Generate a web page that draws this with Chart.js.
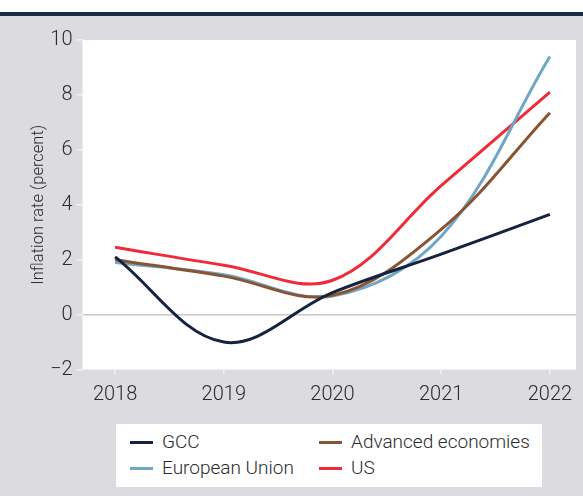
<!DOCTYPE html>
<html>
<head>
<meta charset="utf-8">
<script src="https://cdn.jsdelivr.net/npm/chart.js@4/dist/chart.umd.min.js"></script>
<style>
  html, body { margin: 0; padding: 0; }
  #wrap { position: relative; width: 583px; height: 496px; background: #dcdce0; overflow: hidden; }
  #topWhite { position: absolute; left: 0; top: 0; width: 583px; height: 12px; background: #fff; }
  #topBar { position: absolute; left: 0; top: 12px; width: 583px; height: 4px; background: #1b2a47; }
  #chart { position: absolute; left: 0; top: 0; }
  #legend { position: absolute; left: 116px; top: 424px; width: 426px; height: 63px; background: #fff;
            font-family: Roboto, sans-serif; font-weight: 300; font-size: 19px; color: #2b2b2b; }
  .item { position: absolute; height: 26px; line-height: 26px; white-space: nowrap; }
  .item span.sw { position: absolute; left: 0; top: 12px; width: 23px; height: 3px; }
  .item span.tx { position: absolute; left: 32px; top: 0; }
</style>
</head>
<body>
<div id="wrap">
  <div id="topWhite"></div>
  <div id="topBar"></div>
  <canvas id="chart" width="583" height="496"></canvas>
  <div id="legend"></div>
</div>
<script>
const years = [2018, 2019, 2020, 2021, 2022];
const gcc = [2.1, -1.0, 0.8, 2.2, 3.65];
const europeanUnion = [1.9, 1.45, 0.68, 2.85, 9.4];
const advancedEconomies = [2.0, 1.4, 0.7, 3.1, 7.35];
const us = [2.45, 1.8, 1.25, 4.7, 8.1];
const yTicks = [-2, 0, 2, 4, 6, 8, 10];

const FONT = 'Roboto, sans-serif';

function pts(vals) {
  return years.map((y, i) => ({ x: y, y: vals[i] }));
}

const series = [
  { label: 'GCC', data: gcc, color: '#14233f' },
  { label: 'Advanced economies', data: advancedEconomies, color: '#8a5433' },
  { label: 'European Union', data: europeanUnion, color: '#6fa7c4' },
  { label: 'US', data: us, color: '#ee2b37' }
];

const plotBg = {
  id: 'plotBg',
  beforeDraw(chart) {
    const a = chart.chartArea;
    const c = chart.ctx;
    c.save();
    c.fillStyle = '#ffffff';
    c.fillRect(a.left, a.top, a.right - a.left, a.bottom - a.top);
    c.restore();
  }
};

const ctx = document.getElementById('chart').getContext('2d');
const chart = new Chart(ctx, {
  type: 'line',
  data: {
    datasets: series.map(s => ({
      label: s.label,
      data: pts(s.data),
      borderColor: s.color,
      backgroundColor: s.color,
      borderWidth: 3,
      pointRadius: 0,
      tension: 0.36,
      fill: false
    }))
  },
  options: {
    responsive: false,
    animation: false,
    layout: { padding: { left: 0, right: 7, top: 40, bottom: 0 } },
    plugins: {
      legend: { display: false },
      tooltip: { enabled: false }
    },
    scales: {
      x: {
        type: 'linear',
        min: 2017.7,
        max: 2022.24,
        afterBuildTicks: s => { s.ticks = years.map(v => ({ value: v })); },
        afterFit: s => { s.height = 126.5; },
        border: { display: false },
        grid: { drawOnChartArea: false, tickLength: 5, tickColor: '#f2f2f2', lineWidth: 1.5 },
        ticks: {
          padding: 8,
          color: '#2b2b2b',
          font: { family: FONT, size: 20, weight: 300 },
          callback: v => String(v)
        }
      },
      y: {
        min: -2,
        max: 10,
        afterBuildTicks: s => { s.ticks = yTicks.map(v => ({ value: v })); },
        afterFit: s => { s.width = 82.5; },
        border: { display: false },
        grid: {
          drawOnChartArea: true,
          color: c => (c.tick && c.tick.value === 0 ? '#c8c8c8' : 'rgba(0,0,0,0)'),
          lineWidth: 1.5,
          tickLength: 6,
          tickColor: '#f2f2f2'
        },
        ticks: {
          padding: 4,
          color: '#2b2b2b',
          font: { family: FONT, size: 20, weight: 300 },
          callback: v => (v < 0 ? '\u2212' + Math.abs(v) : String(v))
        },
        title: {
          display: true,
          text: 'Inflation rate (percent)',
          color: '#2b2b2b',
          font: { family: FONT, size: 16.5, weight: 300 },
          padding: { top: 29, bottom: 0 }
        }
      }
    }
  },
  plugins: [plotBg]
});

// legend laid out as in the reference: two columns, two rows
const legendOrder = ['GCC', 'Advanced economies', 'European Union', 'US'];
const legendPos = [[14, 5], [203, 5], [14, 31], [203, 31]];
const legend = document.getElementById('legend');
legendOrder.forEach((name, i) => {
  const s = series.find(d => d.label === name);
  const el = document.createElement('div');
  el.className = 'item';
  el.style.left = legendPos[i][0] + 'px';
  el.style.top = legendPos[i][1] + 'px';
  el.innerHTML = '<span class="sw" style="background:' + s.color + '"></span><span class="tx"></span>';
  el.querySelector('.tx').textContent = name;
  legend.appendChild(el);
});
</script>
</body>
</html>
